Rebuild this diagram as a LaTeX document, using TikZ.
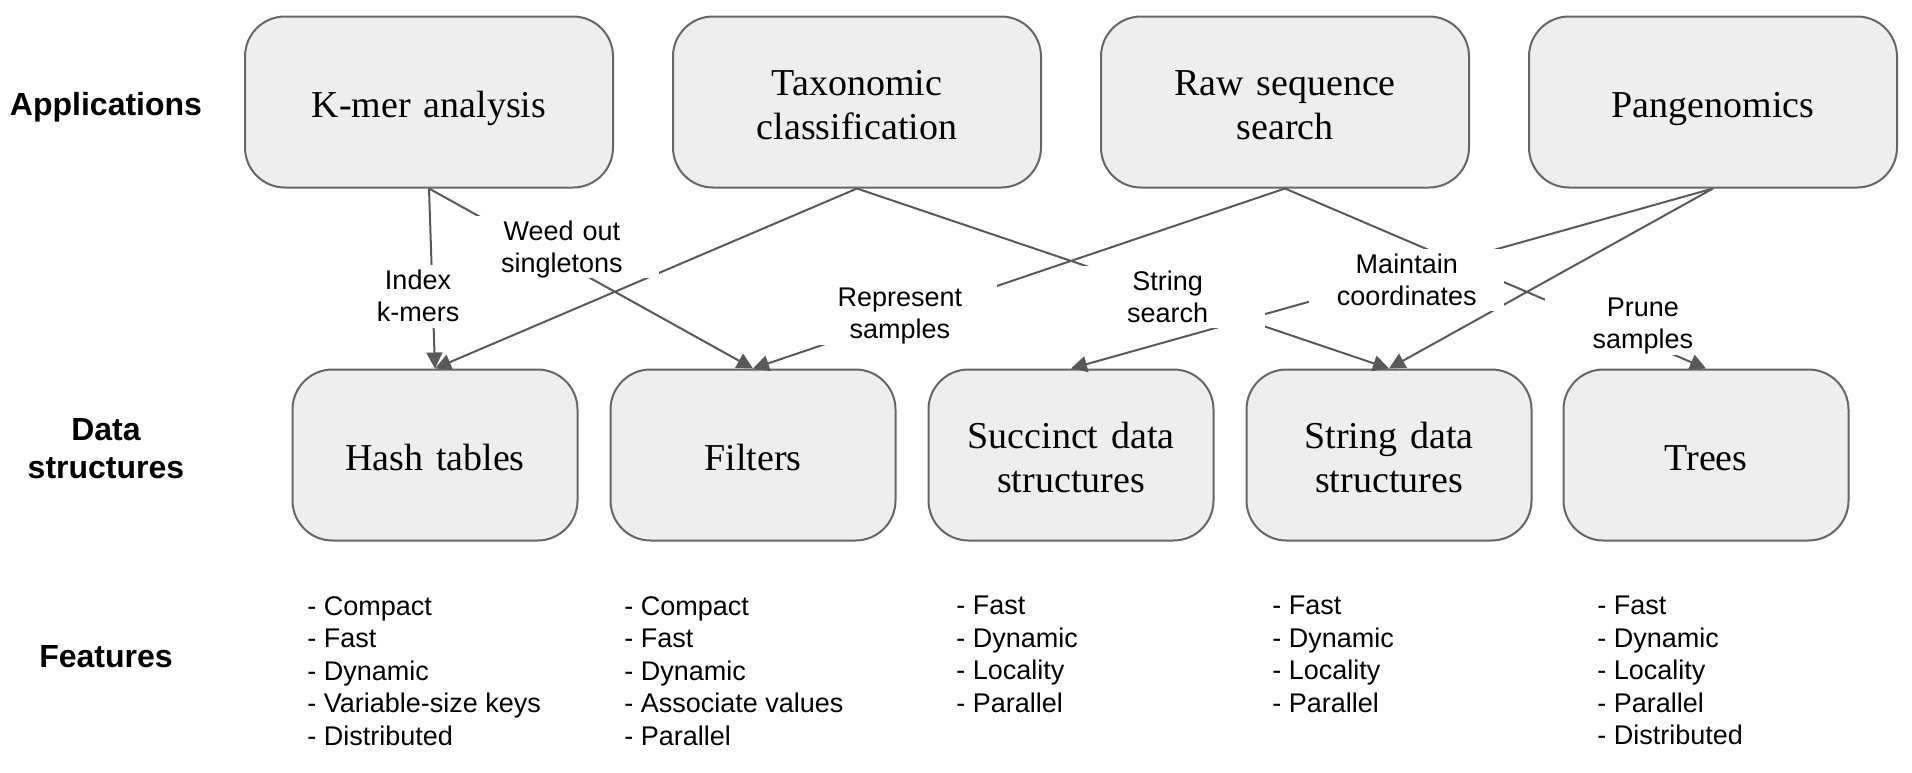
\documentclass[tikz,border=0pt]{standalone}
\usepackage{fontspec}
\setmainfont{Liberation Sans}
\newfontfamily\boxfont{Liberation Serif}
\usetikzlibrary{arrows.meta}

\definecolor{boxfill}{HTML}{EEEEEE}
\definecolor{boxline}{HTML}{666666}
\definecolor{edgecol}{HTML}{595959}

% struts: height on the first line, depth on the last line
\newcommand\serifup{\rule{0pt}{19.5pt}}
\newcommand\serifdown{\rule[-4.5pt]{0pt}{4.5pt}}
\newcommand\sansup{\rule{0pt}{12.22pt}}
\newcommand\sansdown{\rule[-2.86pt]{0pt}{2.86pt}}
\newcommand\headup{\rule{0pt}{14.48pt}}
\newcommand\headdown{\rule[-3.39pt]{0pt}{3.39pt}}

\tikzset{
  appbox/.style={draw=boxline, line width=1pt, fill=boxfill, rounded corners=20pt,
    text width=180pt, minimum height=85.5pt, inner xsep=2pt, inner ysep=0pt, align=center,
    font=\boxfont\fontsize{19}{22}\selectfont,
    execute at begin node=\serifup, execute at end node=\serifdown},
  dsbox/.style={appbox, text width=138.5pt},
  rowlabel/.style={text width=100pt, align=center, font=\bfseries\fontsize{16}{19}\selectfont,
    execute at begin node=\headup, execute at end node=\headdown},
  featlist/.style={anchor=north west, align=left, inner sep=0pt,
    font=\fontsize{13.5}{16.25}\selectfont},
  link/.style={draw=edgecol, line width=1pt, -{Triangle[length=8pt,width=8pt]}},
  lbl/.style={fill=white, text width=95pt, align=center, inner xsep=1.25pt, inner ysep=0pt,
    font=\fontsize{13.5}{16.25}\selectfont,
    execute at begin node=\sansup, execute at end node=\sansdown},
}

\begin{document}
\begin{tikzpicture}[x=0.5pt, y=-0.5pt]
    \useasboundingbox (0,0) rectangle (1912,772);

    % row titles
    \node[rowlabel] (lapp) at (106,104) {Applications};
    \node[rowlabel] (lds) at (106,448) {Data\\structures};
    \node[rowlabel] (lfeat) at (106,656) {Features};

    % applications
    \foreach \name/\x/\txt in {kmer/429/{K-mer analysis}, taxo/857/{Taxonomic\\classification},
        raw/1285/{Raw sequence\\search}, pan/1713/{Pangenomics}}
        \node[appbox] (\name) at (\x,102) {\txt};

    % data structures
    \foreach \name/\x/\txt in {hash/435/{Hash tables}, filt/753/{Filters},
        succ/1071/{Succinct data\\structures}, str/1389/{String data\\structures}, tree/1706/{Trees}}
        \node[dsbox] (\name) at (\x,455) {\txt};

    % features
    \node[featlist] (fhash) at (307,596) {- Compact\\- Fast\\- Dynamic\\- Variable-size keys\\- Distributed};
    \node[featlist] (ffilt) at (624,596) {- Compact\\- Fast\\- Dynamic\\- Associate values\\- Parallel};
    \node[featlist] (fsucc) at (956,596) {- Fast\\- Dynamic\\- Locality\\- Parallel};
    \node[featlist] (fstr) at (1272,596) {- Fast\\- Dynamic\\- Locality\\- Parallel};
    \node[featlist] (ftree) at (1597,596) {- Fast\\- Dynamic\\- Locality\\- Parallel\\- Distributed};

    % arrows first, labels on top
    \foreach \a/\b in {kmer/hash, kmer/filt, taxo/hash, taxo/str, raw/filt, raw/tree, pan/succ, pan/str}
        \draw[link] (\a.south) -- (\b.north);

    \path (kmer.south) -- node[lbl, pos=0.585, xshift=-7.25pt, yshift=-1.2pt] (lidx) {Index\\k-mers} (hash.north);
    \path (kmer.south) -- node[lbl, pos=0.41, yshift=7.6pt] (lweed) {Weed out\\singletons} (filt.north);
    \path (raw.south) -- node[lbl, pos=0.693, xshift=-8.2pt] (lrep) {Represent\\samples} (filt.north);
    \path (taxo.south) -- node[lbl, pos=0.584, yshift=-1.65pt] (lsrch) {String\\search} (str.north);
    \path (pan.south) -- node[lbl, pos=0.477, yshift=-2.85pt] (lcoord) {Maintain\\coordinates} (succ.north);
    \path (raw.south) -- node[lbl, pos=0.85, yshift=9.15pt] (lprune) {Prune\\samples} (tree.north);

\end{tikzpicture}
\end{document}
